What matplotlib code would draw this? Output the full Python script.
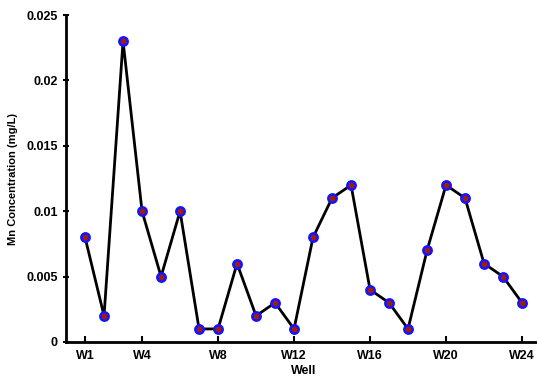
import matplotlib
matplotlib.use('Agg')
import matplotlib.pyplot as plt

# Mn concentration per well (mg/L)
wells = [f"W{i}" for i in range(1, 25)]
mn = [0.008, 0.002, 0.023, 0.010, 0.005, 0.010, 0.001, 0.001, 0.006, 0.002,
      0.003, 0.001, 0.008, 0.011, 0.012, 0.004, 0.003, 0.001, 0.007, 0.012,
      0.011, 0.006, 0.005, 0.003]
tick_wells = [1, 4, 8, 12, 16, 20, 24]
yticks = [0, 0.005, 0.01, 0.015, 0.02, 0.025]
ytick_labels = ["0", "0.005", "0.01", "0.015", "0.02", "0.025"]

plt.rcParams['font.family'] = ['Liberation Sans', 'DejaVu Sans']
plt.rcParams['font.weight'] = 'bold'

fig = plt.figure(figsize=(5.37, 3.8), dpi=100)
ax = fig.add_axes([0.123, 0.1, 0.8845, 0.8605])

x = list(range(1, len(mn) + 1))
ax.plot(x, mn, color='black', linewidth=2, marker='o', markersize=6,
        markerfacecolor='#a01c0c', markeredgecolor='#1414ff', markeredgewidth=1.8)

ax.set_xlim(0, 25)
ax.set_ylim(0, 0.025)
ax.set_xticks(tick_wells)
ax.set_xticklabels([wells[i - 1] for i in tick_wells])
ax.set_yticks(yticks)
ax.set_yticklabels(ytick_labels)

ax.spines['top'].set_visible(False)
ax.spines['right'].set_visible(False)
for s in ['left', 'bottom']:
    ax.spines[s].set_linewidth(2)
ax.tick_params(axis='x', direction='in', length=4, width=1.5, labelsize=9, pad=6)
ax.tick_params(axis='y', direction='inout', length=5, width=1.5, labelsize=9)

ax.set_xlabel('Well', fontsize=9, fontweight='bold', labelpad=2)
ax.set_ylabel('Mn Concentration (mg/L)', fontsize=8, fontweight='bold', labelpad=6)

fig.savefig('out.png', dpi=100)
